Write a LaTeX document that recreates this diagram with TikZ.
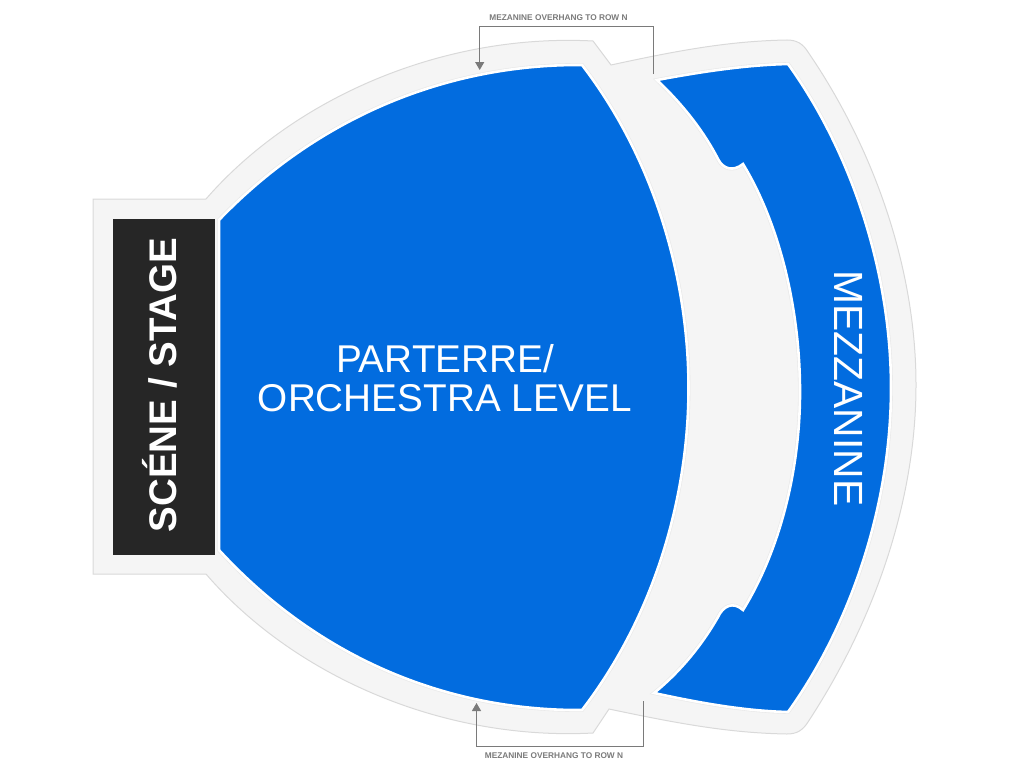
\documentclass[tikz,border=0pt]{standalone}
\usepackage{fontspec}
\setmainfont{Liberation Sans}
\usetikzlibrary{arrows.meta}
\definecolor{seatblue}{HTML}{026CDF}
\definecolor{stagedark}{HTML}{262626}
\definecolor{floorgray}{HTML}{F5F5F5}
\definecolor{edgegray}{HTML}{D9D9D9}
\definecolor{halogray}{HTML}{E8E8E8}
\definecolor{leadergray}{HTML}{7A7A7A}
\tikzset{
  seats/.style={fill=seatblue,draw=white,line width=2.6pt,line join=miter},
  halo/.style={draw=halogray,line width=3.8pt},
  leader/.style={draw=leadergray,line width=1.1pt},
  notetext/.style={text=leadergray,font=\fontsize{8.3}{10}\bfseries\selectfont,inner sep=0pt},
  biglabel/.style={text=white,inner sep=0pt,align=center}
}
\newcommand{\parterrepath}{(219,220) .. controls (320,115) and (450,64) .. (582,65)
  .. controls (655,160) and (688.5,280) .. (688.5,388)
  .. controls (688.5,496) and (655,615) .. (582,710)
  .. controls (450,711) and (320,660) .. (219,550) -- cycle}
\newcommand{\mezzpath}{(657,80) .. controls (700,72) and (745,65) .. (788,64)
  .. controls (850,150) and (891,270) .. (891,388)
  .. controls (891,506) and (850,626) .. (788,712)
  .. controls (745,711) and (700,703) .. (654,693)
  .. controls (680,672) and (702,645) .. (718,617)
  .. controls (723,606) and (733,601) .. (743,610)
  .. controls (780,550) and (800,470) .. (800,392)
  .. controls (800,310) and (780,225) .. (743,164)
  .. controls (733,172) and (723,169) .. (718,159)
  .. controls (702,128) and (680,102) .. (657,80) -- cycle}
\begin{document}
\begin{tikzpicture}[x=1pt,y=-1pt]
  \useasboundingbox (0,0) rectangle (1024,768);
  % floor outline
  \draw[fill=floorgray,draw=edgegray,line width=1pt] (93,199) -- (206,199)
    .. controls (292,100) and (440,33) .. (593,41) -- (611,65)
    .. controls (680,50) and (730,41) .. (787,40)
    .. controls (797,40) and (803,44) .. (808,52)
    .. controls (875,150) and (916,270) .. (916,385)
    .. controls (916,500) and (875,620) .. (808,722)
    .. controls (803,730) and (797,734) .. (787,734)
    .. controls (730,733) and (680,724) .. (609,709) -- (593,733)
    .. controls (440,741) and (292,674) .. (206,574) -- (93,574) -- cycle;

  % seating blocks
  \draw[halo] \parterrepath;
  \draw[seats] \parterrepath;
  \draw[halo] \mezzpath;
  \draw[seats] \mezzpath;

  % stage
  \fill[stagedark] (113,219) rectangle (215,554.5);
  \node[biglabel,rotate=90,font=\fontsize{38.5}{44}\bfseries\selectfont] (stage) at (160,385) {SCÉNE / STAGE};
  \node[biglabel,font=\fontsize{38.7}{39}\selectfont] (parterre) at (445,378) {PARTERRE/\\ORCHESTRA LEVEL};
  \node[biglabel,rotate=-90,font=\fontsize{40.8}{44}\selectfont] (mezz) at (849,388.5) {MEZZANINE};

  % overhang notes
  \node[notetext] (topnote) at (558.5,17.5) {MEZANINE OVERHANG TO ROW N};
  \node[notetext] (botnote) at (554,756) {MEZANINE OVERHANG TO ROW N};
  \coordinate (topfront) at (479.7,70);
  \coordinate (topback) at (653.7,74);
  \coordinate (botfront) at (476.5,703);
  \coordinate (botback) at (643.7,701);
  \draw[leader,-{Triangle[width=9pt,length=8pt]}] (topback) |- (topfront |- 0,26.7) -- (topfront);
  \draw[leader,-{Triangle[width=9pt,length=8pt]}] (botback) |- (botfront |- 0,746.7) -- (botfront);
\end{tikzpicture}
\end{document}
